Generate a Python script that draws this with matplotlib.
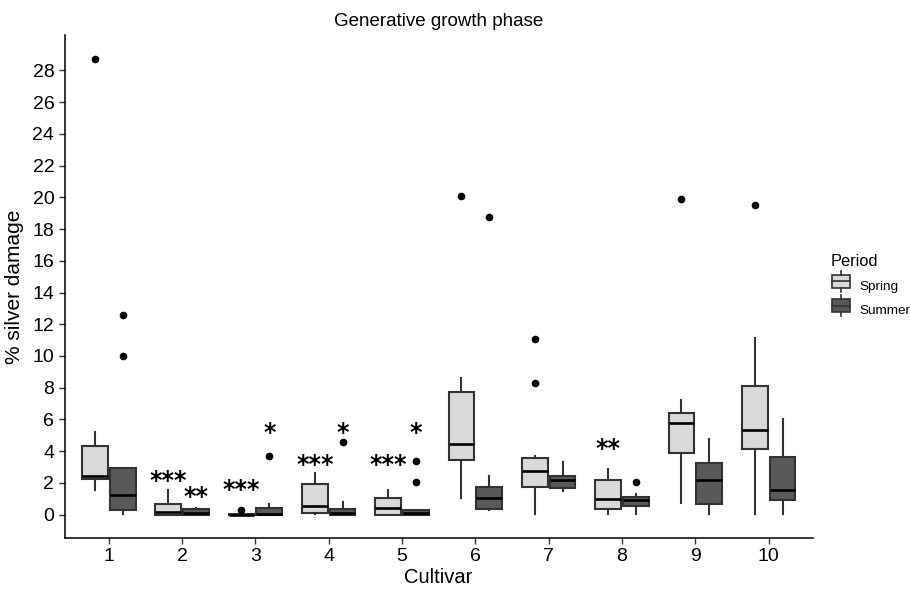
import matplotlib.pyplot as plt
from matplotlib.legend_handler import HandlerBase
from matplotlib.patches import Patch, Rectangle
from matplotlib.lines import Line2D

plt.rcParams["font.family"] = ["Liberation Sans", "DejaVu Sans"]

cultivars = [1, 2, 3, 4, 5, 6, 7, 8, 9, 10]

# five-number summaries: whislo, q1, med, q3, whishi
spring_whislo = [1.58, 0.0, 0.0, 0.05, 0.0, 1.07, 0.06, 0.06, 0.76, 0.06]
spring_q1 = [2.27, 0.0, 0.0, 0.13, 0.0, 3.47, 1.77, 0.38, 3.90, 4.16]
spring_med = [2.46, 0.19, 0.0, 0.57, 0.44, 4.48, 2.77, 1.00, 5.80, 5.36]
spring_q3 = [4.35, 0.69, 0.05, 1.95, 1.07, 7.76, 3.59, 2.20, 6.43, 8.13]
spring_whishi = [5.23, 1.58, 0.05, 2.65, 1.58, 8.64, 3.72, 2.90, 7.25, 11.16]
spring_out = [[28.7], [], [0.3], [], [], [20.1], [11.1, 8.3], [], [19.9], [19.5]]

summer_whislo = [0.06, 0.0, 0.0, 0.0, 0.0, 0.32, 1.50, 0.06, 0.06, 0.06]
summer_q1 = [0.32, 0.0, 0.0, 0.0, 0.0, 0.38, 1.70, 0.57, 0.69, 0.95]
summer_med = [1.26, 0.10, 0.05, 0.13, 0.12, 1.07, 2.20, 0.95, 2.20, 1.58]
summer_q3 = [2.96, 0.38, 0.44, 0.38, 0.32, 1.77, 2.46, 1.13, 3.28, 3.66]
summer_whishi = [2.96, 0.44, 0.70, 0.82, 0.32, 2.46, 3.34, 1.30, 4.80, 6.00]
summer_out = [[12.6, 10.0], [], [3.72], [4.6], [3.4, 2.08], [18.75], [], [2.08], [], []]

# significance labels (cultivar, period, text, y of the star centre)
stars = [
    (2, "Spring", "***", 2.27), (2, "Summer", "**", 1.26),
    (3, "Spring", "***", 1.7), (3, "Summer", "*", 5.3),
    (4, "Spring", "***", 3.28), (4, "Summer", "*", 5.3),
    (5, "Spring", "***", 3.28), (5, "Summer", "*", 5.3),
    (8, "Spring", "**", 4.29),
]

spring_col = "#d9d9d9"
summer_col = "#595959"
edge = "#333333"


def make_stats(lo, q1, med, q3, hi, out):
    return [dict(whislo=a, q1=b, med=c, q3=d, whishi=e, fliers=f)
            for a, b, c, d, e, f in zip(lo, q1, med, q3, hi, out)]


fig = plt.figure(figsize=(9.12, 5.89), dpi=100)
ax = fig.add_axes([0.071, 0.087, 0.82, 0.853])

off = 0.19
for stats, shift, col in [
    (make_stats(spring_whislo, spring_q1, spring_med, spring_q3, spring_whishi, spring_out), -off, spring_col),
    (make_stats(summer_whislo, summer_q1, summer_med, summer_q3, summer_whishi, summer_out), off, summer_col),
]:
    ax.bxp(stats, positions=[c + shift for c in cultivars], widths=0.35,
           patch_artist=True, showcaps=False, manage_ticks=False,
           boxprops=dict(facecolor=col, edgecolor=edge, linewidth=1.5),
           medianprops=dict(color="black", linewidth=1.9),
           whiskerprops=dict(color=edge, linewidth=1.5),
           flierprops=dict(marker="o", markerfacecolor="black", markeredgecolor="black",
                           markersize=4.5, linestyle="none"))

# asterisk glyph sits off the text box centre, small nudge
for cult, per, txt, yv in stars:
    x = cult - off if per == "Spring" else cult + off
    ax.text(x, yv - 0.13, txt, ha="center", va="center", fontsize=17,
            family="DejaVu Sans", fontweight="bold", color="black")

ax.set_xlim(0.4, 10.6)
ax.set_ylim(-1.45, 30.2)
ax.set_xticks(cultivars)
ax.set_xticklabels([str(c) for c in cultivars])
ax.set_yticks(range(0, 29, 2))
ax.tick_params(axis="both", labelsize=14, length=4, width=1, color="#333333")
ax.spines["top"].set_visible(False)
ax.spines["right"].set_visible(False)
for s in ["left", "bottom"]:
    ax.spines[s].set_linewidth(1.1)

ax.set_xlabel("Cultivar", fontsize=14.5, labelpad=2)
ax.set_ylabel("% silver damage", fontsize=15, labelpad=6)
ax.set_title("Generative growth phase", fontsize=13.5, pad=7)


class BoxHandler(HandlerBase):
    def create_artists(self, legend, orig, xd, yd, w, h, fontsize, trans):
        col = orig.get_facecolor()
        cx = xd + w / 2
        r = Rectangle((xd + 1, yd), w - 2, h, facecolor=col,
                      edgecolor=edge, lw=1.2, transform=trans)
        m = Line2D([xd + 1, xd + w - 1], [yd + h / 2] * 2, color=edge, lw=1.2, transform=trans)
        t = Line2D([cx, cx], [yd + h, yd + h * 1.3], color=edge, lw=1.2, transform=trans)
        b = Line2D([cx, cx], [yd, yd - h * 0.3], color=edge, lw=1.2, transform=trans)
        return [r, m, t, b]


handles = [Patch(facecolor=spring_col), Patch(facecolor=summer_col)]
leg = fig.legend(handles, ["Spring", "Summer"], title="Period", loc="upper left",
                 bbox_to_anchor=(0.897, 0.59), frameon=False, fontsize=9.7,
                 title_fontsize=11.8, handler_map={Patch: BoxHandler()},
                 handlelength=1.6, handleheight=1.1, labelspacing=0.75,
                 handletextpad=0.6)
leg._legend_box.align = "left"

fig.savefig("out.png", dpi=100)
